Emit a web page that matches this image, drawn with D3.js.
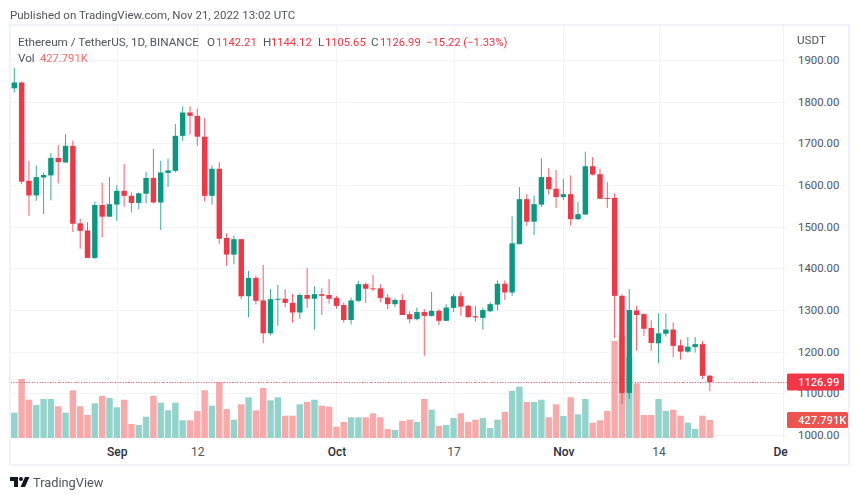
<!DOCTYPE html>
<html><head><meta charset="utf-8">
<script src="https://cdn.jsdelivr.net/npm/d3@7"></script>
<style>
html,body{margin:0;padding:0;background:#fff}
svg{display:block;font-family:Roboto,sans-serif;filter:blur(0.3px)}
text{font-size:11.7px}
.num{font-size:11.2px}
</style></head><body><div id="c"></div>
<script>
const startDate = "2022-08-18";
const opens = [1832,1846,1610,1575,1618,1623,1665,1654,1694,1508,1491,1425,1552,1524,1553,1586,1574,1557,1579,1617,1558,1629,1634,1718,1774,1766,1716,1574,1639,1473,1433,1470,1333,1377,1323,1244,1325,1327,1317,1294,1336,1327,1338,1336,1329,1312,1276,1322,1362,1352,1352,1330,1314,1324,1290,1278,1295,1286,1298,1274,1305,1333,1310,1285,1281,1297,1313,1363,1342,1458,1566,1512,1553,1619,1591,1571,1578,1518,1529,1645,1626,1569,1569,1334,1101,1299,1290,1257,1220,1243,1253,1215,1200,1211,1218,1142.21];
const highs = [1881,1848,1658,1647,1630,1677,1695,1722,1706,1519,1511,1560,1606,1619,1599,1650,1582,1582,1632,1687,1658,1663,1746,1789,1789,1783,1761,1647,1655,1484,1478,1470,1394,1383,1408,1350,1360,1350,1338,1340,1401,1357,1352,1374,1334,1318,1330,1370,1366,1384,1362,1338,1328,1338,1297,1306,1302,1343,1302,1314,1338,1342,1313,1310,1306,1319,1371,1371,1525,1595,1578,1574,1664,1640,1636,1614,1623,1559,1680,1667,1639,1607,1580,1338,1350,1310,1292,1275,1292,1292,1270,1229,1235,1235,1226,1144.12];
const lows = [1822,1602,1526,1562,1530,1563,1604,1654,1487,1447,1425,1422,1474,1524,1514,1548,1534,1542,1556,1556,1492,1595,1630,1706,1721,1694,1560,1553,1459,1406,1410,1326,1282,1313,1220,1239,1262,1307,1270,1279,1305,1253,1288,1315,1303,1270,1265,1319,1317,1346,1318,1302,1307,1288,1268,1275,1190,1284,1264,1274,1295,1286,1281,1272,1253,1295,1299,1324,1334,1458,1502,1480,1547,1577,1545,1564,1502,1516,1529,1623,1566,1545,1233,1074,1087,1202,1238,1202,1172,1236,1187,1181,1198,1198,1134,1105.65];
const closes = [1846,1608,1575,1619,1624,1665,1655,1694,1507,1490,1425,1552,1524,1554,1586,1574,1557,1580,1617,1558,1630,1635,1718,1774,1766,1716,1574,1639,1471,1433,1470,1333,1377,1322,1244,1326,1327,1317,1294,1336,1327,1338,1334,1327,1310,1276,1323,1362,1351,1351,1329,1314,1324,1288,1278,1295,1286,1298,1274,1306,1333,1308,1283,1282,1300,1314,1363,1342,1460,1566,1512,1554,1619,1590,1571,1578,1518,1530,1645,1625,1567,1567,1334,1101,1300,1288,1255,1221,1244,1253,1214,1200,1212,1218,1142,1126.99];
const volumes = [601,1402,910,784,927,927,754,601,1134,754,547,825,998,951,730,910,333,309,506,998,839,658,839,421,421,642,1134,768,1324,689,435,801,967,658,1189,896,967,530,530,801,856,910,768,744,269,380,492,492,492,587,492,214,190,404,435,380,927,673,285,309,475,587,380,435,475,238,435,618,1117,1219,856,856,910,492,801,523,967,563,927,364,421,642,2306,2448,1925,1300,547,547,927,642,673,530,364,214,530,427.791];

const priceTicks = [1000,1100,1200,1300,1400,1500,1600,1700,1800,1900];
const timeTickDates = ["2022-09-01","2022-09-12","2022-10-01","2022-10-17","2022-11-01","2022-11-14","2022-12-01"];
const timeTickLabels = ["Sep","12","Oct","17","Nov","14","De"];
const majorLabels = ["Sep","Oct","Nov","De"];

const title = "Published on TradingView.com, Nov 21, 2022 13:02 UTC";
const symbol = "Ethereum / TetherUS, 1D, BINANCE";
const ohlcKeys = ["O","H","L","C"];
const ohlcText = ["1142.21","1144.12","1105.65","1126.99"];
const changeText = "\u221215.22 (\u22121.33%)";
const volText = "427.791K";
const lastPrice = 1126.99, lastVol = 427.791;

const W=859,H=499, fL=10, fR=849, fT=25, fB=465, plotR=787, axisY=441;
const RED="#f23645", GREEN="#089981", GRID="#f2f4f9", TXT="#50535e";
const svg=d3.select("#c").append("svg").attr("width",W).attr("height",H);
const parse=d3.utcParse("%Y-%m-%d");
const t0=parse(startDate);
const dates=opens.map((_,i)=>d3.utcDay.offset(t0,i));
const x=d3.scaleUtc().domain([t0,parse("2022-12-01")]).range([14.3,783]);
const y=d3.scaleLinear().domain([1000,1900]).range([435,60]);
const v=d3.scaleLinear().domain([0,lastVol]).range([438,420]);

// frame
svg.append("rect").attr("x",fL).attr("y",fT).attr("width",fR-fL).attr("height",fB-fT)
  .attr("fill","#fff").attr("stroke","#f0f3fa").attr("stroke-width",2);

// grid
svg.append("g").selectAll("line").data(priceTicks).join("line")
  .attr("x1",fL+1).attr("x2",plotR).attr("y1",d=>Math.round(y(d))+.5).attr("y2",d=>Math.round(y(d))+.5)
  .attr("stroke",GRID);
svg.append("g").selectAll("line").data(timeTickDates).join("line")
  .attr("x1",d=>Math.round(x(parse(d)))+.5).attr("x2",d=>Math.round(x(parse(d)))+.5)
  .attr("y1",fT+1).attr("y2",axisY).attr("stroke",GRID);

// volume
const idx=d3.range(opens.length);
const isUp=i=>closes[i]>=opens[i];
svg.append("g").selectAll("rect").data(idx).join("rect")
  .attr("x",i=>x(dates[i])-3.2).attr("width",6.4)
  .attr("y",i=>v(volumes[i])).attr("height",i=>v(0)-v(volumes[i]))
  .attr("fill",i=>isUp(i)?"#92d3cb":"#f9a9a9");

// price line
const lineY=Math.round(y(lastPrice))+.5;
svg.append("line").attr("x1",fL+1).attr("x2",plotR).attr("y1",lineY).attr("y2",lineY)
  .attr("stroke","#f7525f").attr("stroke-dasharray","1 1.6");

// candles
const cg=svg.append("g");
cg.selectAll("line").data(idx).join("line")
  .attr("x1",i=>x(dates[i])).attr("x2",i=>x(dates[i]))
  .attr("y1",i=>y(highs[i])).attr("y2",i=>y(lows[i]))
  .attr("stroke",i=>isUp(i)?GREEN:RED).attr("stroke-opacity",.8).attr("stroke-width",1);
cg.selectAll("rect").data(idx).join("rect")
  .attr("x",i=>x(dates[i])-2.7).attr("width",5.4)
  .attr("y",i=>y(Math.max(opens[i],closes[i])))
  .attr("height",i=>Math.max(1,Math.abs(y(opens[i])-y(closes[i]))))
  .attr("fill",i=>isUp(i)?GREEN:RED);

// axes
const ax=svg.append("g").attr("transform",`translate(0,${axisY})`)
  .call(d3.axisBottom(x).tickValues(timeTickDates.map(parse)).tickSize(0).tickPadding(6)
    .tickFormat((d,i)=>timeTickLabels[i]));
ax.select(".domain").remove();
ax.selectAll("text").style("font-size","12px").style("font-family","Roboto")
  .attr("fill",(d,i)=>majorLabels.includes(timeTickLabels[i])?"#2a2e39":TXT)
  .attr("font-weight",(d,i)=>majorLabels.includes(timeTickLabels[i])?500:400)
  .attr("dx",(d,i)=>timeTickLabels[i]==="De"?-3:0);
const ay=svg.append("g").attr("transform",`translate(${plotR},0)`)
  .call(d3.axisRight(y).tickValues(priceTicks).tickSize(0).tickPadding(11).tickFormat(d3.format(".2f")));
ay.select(".domain").remove();
ay.selectAll("text").style("font-size","11.4px").style("font-family","Roboto").attr("fill",TXT).attr("dy","0.32em");
svg.append("text").attr("x",797).attr("y",44).attr("fill",TXT).text("USDT");

// tags
function tag(yy,h,col,txt,r){
  svg.append("rect").attr("x",plotR).attr("y",yy).attr("width",r-plotR).attr("height",h).attr("fill",col).attr("rx",1.5);
  svg.append("text").attr("class","num").attr("x",798).attr("y",yy+h/2+4).attr("fill","#fff").attr("font-weight",500).text(txt);
}
tag(y(lastPrice)-8.5,17,RED,d3.format(".2f")(lastPrice),844);
tag(v(lastVol)-8,16,"#ef5350",volText,848);

// text
svg.append("text").attr("x",10).attr("y",19).attr("fill",TXT).style("font-size","11.5px").text(title);
svg.append("text").attr("x",18).attr("y",46).attr("fill",TXT).text(symbol);
const keyX=[207,263,318,371], valX=[216,271,325,380];
ohlcKeys.forEach((k,i)=>{
  svg.append("text").attr("x",keyX[i]).attr("y",46).attr("fill",TXT).text(k);
  svg.append("text").attr("class","num").attr("x",valX[i]).attr("y",46).attr("fill",RED).text(ohlcText[i]);
});
svg.append("text").attr("class","num").attr("x",426).attr("y",46).attr("fill",RED).text(changeText);
svg.append("text").attr("x",18).attr("y",62).attr("fill",TXT).text("Vol");
svg.append("text").attr("class","num").attr("x",40).attr("y",62).attr("fill","#f26d6b").text(volText);

// logo
const lg=svg.append("g").attr("transform","translate(10,477)").attr("fill","#131722");
lg.append("path").attr("d","M0 0H8V10H4V4H0Z");
lg.append("circle").attr("cx",11).attr("cy",2).attr("r",2);
lg.append("path").attr("d","M15 0H19.5L15 10H10.5Z");
svg.append("text").attr("x",33).attr("y",487).attr("fill",TXT).style("font-size","12.8px").text("TradingView");
</script></body></html>
